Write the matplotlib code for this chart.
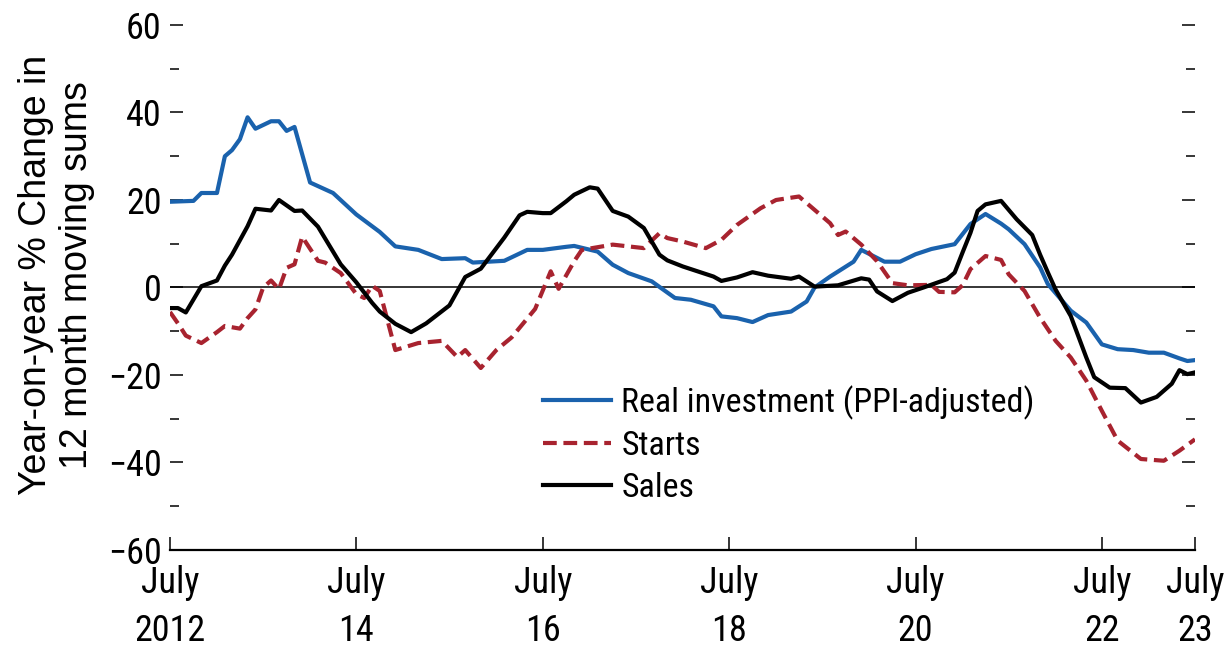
import matplotlib
matplotlib.use('Agg')
import matplotlib.pyplot as plt
from matplotlib.ticker import MultipleLocator
import pandas as pd

# months counted from July 2012 (0) to July 2023 (132)
invest_m = [0, 3, 4, 6, 7, 8, 9, 10, 11, 13, 14, 15, 16, 18, 21, 24, 27, 29, 32, 35,
            38, 39, 43, 46, 48, 51, 52, 55, 57, 59, 62, 65, 67, 70, 71, 73, 75, 77, 80, 82,
            83, 85, 88, 89, 92, 94, 96, 98, 101, 103, 105, 107, 108, 110, 112, 113, 116, 118, 120, 122,
            124, 126, 128, 130, 131, 132]
invest_v = [19.6, 19.8, 21.6, 21.6, 30.0, 31.4, 33.9, 38.9, 36.3, 38.0, 38.0, 35.8, 36.7, 24.0, 21.6, 16.7, 12.7, 9.4, 8.6, 6.5,
            6.7, 5.7, 6.1, 8.6, 8.6, 9.3, 9.5, 8.2, 5.2, 3.3, 1.4, -2.4, -2.8, -4.3, -6.6, -7.0, -7.9, -6.3, -5.5, -3.2,
            0.0, 2.5, 5.9, 8.6, 5.9, 5.9, 7.6, 8.8, 9.9, 14.5, 16.8, 14.6, 13.3, 9.9, 4.6, 0.8, -5.3, -8.0, -13.0, -14.1,
            -14.3, -14.9, -14.9, -16.2, -16.8, -16.6]

starts_m = [0, 1, 2, 4, 6, 7, 9, 10, 11, 12, 13, 14, 15, 16, 17, 19, 20, 22, 24, 25,
            26, 27, 29, 32, 35, 37, 38, 40, 42, 44, 47, 49, 50, 52, 53, 57, 59, 61, 63, 64,
            66, 69, 71, 73, 76, 78, 81, 82, 85, 86, 87, 89, 91, 93, 95, 98, 99, 101, 102, 103,
            105, 107, 108, 110, 112, 114, 116, 118, 120, 122, 125, 128, 130, 132]
starts_v = [-5.6, -8.2, -11.0, -12.7, -10.2, -8.8, -9.4, -7.0, -5.0, 0.0, 1.6, -0.4, 4.5, 5.3, 11.6, 6.1, 5.7, 3.3, -1.5, -2.4,
            0.4, -0.8, -14.3, -12.7, -12.2, -15.9, -14.3, -18.4, -14.3, -11.4, -4.9, 3.7, -0.3, 6.0, 8.6, 9.8, 9.4, 9.0, 12.4, 11.3,
            10.5, 9.0, 10.9, 14.3, 18.1, 20.0, 20.8, 19.3, 14.7, 12.0, 12.8, 9.8, 6.0, 1.0, 0.5, 0.6, -1.0, -1.1, 0.5, 4.2,
            7.2, 6.3, 3.0, -0.8, -6.9, -12.2, -16.0, -21.3, -28.2, -35.0, -39.2, -39.6, -37.3, -34.7]

sales_m = [0, 1, 2, 4, 6, 7, 8, 10, 11, 13, 14, 16, 17, 19, 22, 24, 26, 27, 29, 31,
           33, 36, 38, 40, 43, 45, 46, 48, 49, 51, 52, 54, 55, 57, 59, 61, 63, 64, 66, 70,
           71, 73, 75, 77, 80, 81, 83, 86, 89, 90, 91, 93, 95, 97, 100, 101, 102, 103, 104, 105,
           107, 109, 111, 112, 113, 114, 116, 118, 119, 121, 123, 125, 127, 129, 130, 131, 132]
sales_v = [-4.7, -4.7, -5.7, 0.3, 1.6, 5.0, 7.5, 14.0, 18.0, 17.6, 20.0, 17.5, 17.6, 13.9, 5.3, 1.2, -3.5, -5.5, -8.3, -10.2,
           -8.2, -4.1, 2.4, 4.3, 11.4, 16.5, 17.3, 17.0, 17.0, 19.7, 21.2, 22.9, 22.6, 17.5, 16.2, 13.6, 7.5, 6.2, 4.8, 2.5,
           1.5, 2.3, 3.5, 2.7, 2.0, 2.5, 0.2, 0.5, 2.1, 1.8, -0.9, -3.1, -1.2, 0.0, 1.9, 3.4, 8.0, 12.5, 17.5, 19.0,
           19.8, 15.6, 12.0, 7.5, 3.5, -0.5, -6.5, -16.0, -20.5, -22.9, -23.0, -26.3, -25.0, -22.0, -18.9, -19.8, -19.4]

tick_dates = ['2012-07', '2014-07', '2016-07', '2018-07', '2020-07', '2022-07', '2023-07']
tick_labels = ['July\n2012', 'July\n14', 'July\n16', 'July\n18', 'July\n20', 'July\n22', 'July\n23']

start = pd.Timestamp('2012-07-01')


def to_dates(months):
    return [start + pd.DateOffset(months=m) for m in months]


narrow = ['Roboto Condensed', 'Archivo Narrow', 'Liberation Sans']

fig = plt.figure(figsize=(12.29, 6.49), dpi=100)
ax = fig.add_axes([170 / 1229, 1 - 550 / 649, (1195 - 170) / 1229, (550 - 25) / 649])

ax.plot(to_dates(invest_m), invest_v, color='#1a62ad', lw=3.0, label='Real investment (PPI-adjusted)')
ax.plot(to_dates(starts_m), starts_v, color='#a8232f', lw=3.0, dashes=(3.3, 1.6), label='Starts')
ax.plot(to_dates(sales_m), sales_v, color='black', lw=3.0, label='Sales')
ax.axhline(0, color='black', lw=1.1, zorder=1)

ax.set_xlim(start, pd.Timestamp('2023-07-01'))
ax.set_ylim(-60, 60)

ax.set_xticks(pd.to_datetime(tick_dates))
ax.set_xticklabels(tick_labels, family=narrow, fontsize=26, linespacing=1.42)
ax.yaxis.set_major_locator(MultipleLocator(20))
ax.yaxis.set_minor_locator(MultipleLocator(10))
for lab in ax.get_yticklabels():
    lab.set_family(narrow)
    lab.set_fontsize(26)

for s in ['left', 'right', 'top']:
    ax.spines[s].set_visible(False)
ax.spines['bottom'].set_linewidth(1.6)

ax.tick_params(axis='x', direction='in', length=9.5, width=1.1, pad=11)
ax.tick_params(axis='y', which='both', direction='in', left=True, right=True, width=1.1, pad=6)
ax.tick_params(axis='y', which='major', length=9.5)
ax.tick_params(axis='y', which='minor', length=6.5)

leg = ax.legend(loc='upper left', bbox_to_anchor=(543 / 1229, 1 - 385 / 649), bbox_transform=fig.transFigure,
                frameon=False, handlelength=2.0, handletextpad=0.3, labelspacing=0.3,
                borderpad=0, borderaxespad=0, prop={'family': narrow, 'size': 24.5})

fig.text(0.046, 0.576, 'Year-on-year % Change in\n12 month moving sums', rotation=90,
         ha='center', va='center', multialignment='center', family='Liberation Sans',
         fontsize=27, linespacing=1.15)

fig.savefig('out.png', dpi=100)
